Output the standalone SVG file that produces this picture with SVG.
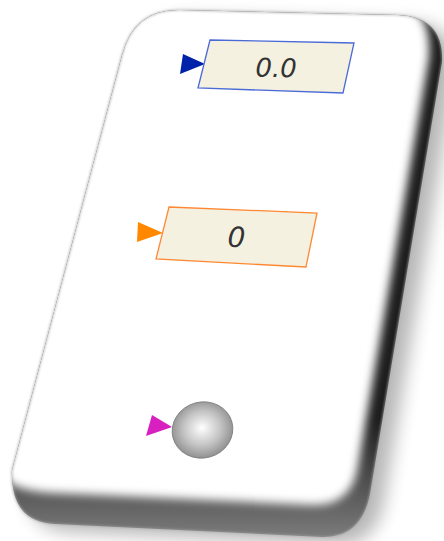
<svg xmlns="http://www.w3.org/2000/svg" width="444" height="541" viewBox="0 0 444 541">
<style>
.box{fill:#f5f1e0;stroke-width:1.3}
.val{font-family:"DejaVu Sans",sans-serif;font-style:italic;fill:#333;text-anchor:middle}
</style>
<defs>
<filter id="sh" x="-20%" y="-20%" width="140%" height="140%"><feGaussianBlur stdDeviation="9"/></filter>
<filter id="fb" x="-10%" y="-10%" width="120%" height="120%"><feGaussianBlur stdDeviation="5"/></filter>
<filter id="eb" x="-5%" y="-5%" width="110%" height="110%"><feGaussianBlur stdDeviation="1.2"/></filter>
<clipPath id="baseClip"><path d="M180,10 L398,15 Q444,17 442,62 L371,488 Q364,538 322,537 L55,524 Q10,522 12,470 L122,55 Q134,9 180,10 Z"/></clipPath>
<linearGradient id="bev" gradientUnits="userSpaceOnUse" x1="0" y1="420" x2="0" y2="535">
<stop offset="0" stop-color="#1e1e1e"/><stop offset="1" stop-color="#7a7a7a"/>
</linearGradient>
<radialGradient id="sph" cx="0.5" cy="0.48" r="0.55" fx="0.5" fy="0.46">
<stop offset="0" stop-color="#ffffff"/><stop offset="0.55" stop-color="#c4c4c4"/><stop offset="1" stop-color="#8a8a8a"/>
</radialGradient>
</defs>
<rect width="444" height="541" fill="#fff"/>
<g id="panel">
<path d="M180,10 L398,15 Q444,17 442,62 L371,488 Q364,538 322,537 L55,524 Q10,522 12,470 L122,55 Q134,9 180,10 Z" transform="translate(14,8)" fill="#000" opacity="0.28" filter="url(#sh)"/>
<path d="M180,10 L398,15 Q444,17 442,62 L371,488 Q364,538 322,537 L55,524 Q10,522 12,470 L122,55 Q134,9 180,10 Z" fill="url(#bev)"/>
<g clip-path="url(#baseClip)">
<path d="M178,0 L400,5 Q432,8 429,58 L358,466 Q352,506 312,505 L52,493 Q0,490 2,468 L112,50 Q126,-1 178,0 Z" fill="#fff" filter="url(#fb)"/>
</g>
<path d="M180,10 L398,15 Q444,17 442,62 L371,488 Q364,538 322,537 L55,524 Q10,522 12,470 L122,55 Q134,9 180,10 Z" fill="none" stroke="#aaa" stroke-width="1.2" filter="url(#eb)"/>
</g>
<g id="node-real">
<polygon points="183,54 180,74 205,64" fill="#0022aa"/>
<polygon class="box" points="210,40 354,43 343,93 198,88" stroke="#4a6ad8"/>
<text class="val" x="276" y="77" font-size="26" transform="rotate(1.2 276 70)">0.0</text>
</g>
<g id="node-int">
<polygon points="138,222 137,242 163,233" fill="#ff8800"/>
<polygon class="box" points="169,207 317,213 306,267 156,259" stroke="#ff8833"/>
<text class="val" x="236.5" y="247" font-size="28" transform="rotate(1.8 236 237)">0</text>
</g>
<g id="node-bool">
<polygon points="152,415 146,436 172,427" fill="#d81fc0"/>
<ellipse cx="202.5" cy="430" rx="30.5" ry="28" fill="url(#sph)" stroke="#7a7a7a" stroke-width="0.8" transform="rotate(-15 202.5 430)"/>
</g>
</svg>
